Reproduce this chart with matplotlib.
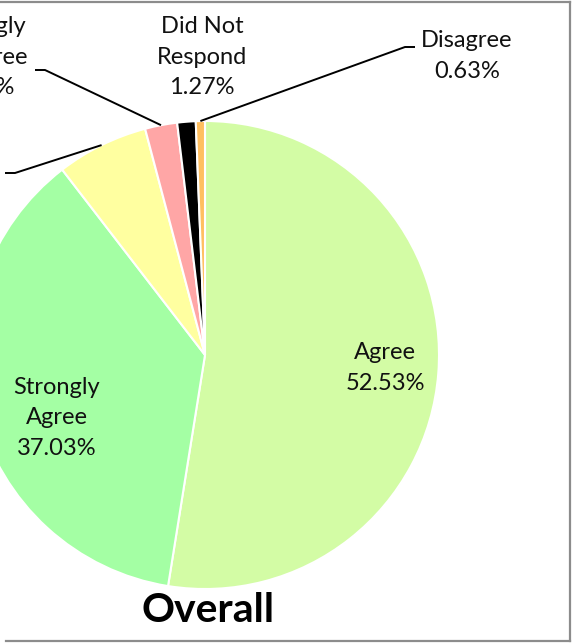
import numpy as np
import matplotlib
matplotlib.use("Agg")
import matplotlib.pyplot as plt
from matplotlib.lines import Line2D

# ---- data ----
categories = ["Agree", "Strongly Agree", "Neutral", "Strongly Disagree", "Did Not Respond", "Disagree"]
values = [52.53, 37.03, 6.33, 2.22, 1.27, 0.63]
colors = ["#D3FCA5", "#A4FFA4", "#FFFFA0", "#FFA6A6", "#000000", "#FFBF60"]
title = "Overall"

W, H = 573, 644
fig = plt.figure(figsize=(W / 100, H / 100), dpi=100)
FONT = "Lato"

# layout: pie centre / radius in pixels
CX, CY, R = 205, 355, 234
LEFT = 5
ax = fig.add_axes([LEFT / W, 0, 1 - LEFT / W, 1])

def px(x, y):
    return ((x - CX) / R, (CY - y) / R)

wedges, _ = ax.pie(values, colors=colors, startangle=90, counterclock=False,
                   wedgeprops=dict(edgecolor="white", linewidth=1.5))
ax.set_xlim((LEFT - CX) / R, (W - CX) / R)
ax.set_ylim((CY - H) / R, CY / R)
ax.set_aspect("auto")
ax.axis("off")

def edge_point(w, r=1.0):
    th = np.deg2rad((w.theta1 + w.theta2) / 2)
    return r * np.cos(th), r * np.sin(th)

def lbl(i):
    return f"{categories[i]}\n{values[i]:.2f}%"

fs = 17
ls = 1.55
tkw = dict(ha="center", va="center", fontsize=fs, family=FONT, linespacing=ls, color="#111111")

# inside labels
ax.text(*px(385, 368), lbl(0), **tkw)
ax.text(*px(57, 418), "Strongly\nAgree\n" + f"{values[1]:.2f}%", **tkw)

# outside labels with leaders
ax.text(*px(202, 57), "Did Not\nRespond\n" + f"{values[4]:.2f}%", **tkw)
ax.text(*px(467, 56), lbl(5), **tkw)
ax.text(*px(-17, 57), "Strongly\nDisagree\n" + f"{values[3]:.2f}%", clip_on=False, **tkw)

def leader(w, elbow, end):
    p0 = edge_point(w)
    p1 = px(*elbow)
    p2 = px(*end)
    ax.plot([p0[0], p1[0], p2[0]], [p0[1], p1[1], p2[1]], color="black", lw=1.4,
            solid_capstyle="butt", clip_on=False)

leader(wedges[5], (405, 47), (415, 47))
leader(wedges[3], (45, 70), (35, 70))
leader(wedges[2], (15, 173), (5, 173))

fig.text(208 / W, 1 - 611 / H, title, ha="center", va="center", fontsize=29.5,
         fontweight="bold", family=FONT, color="black")

# chart border (left side cropped)
bc = "#8C8C8C"
fig.add_artist(Line2D([0, 570 / W], [1 - 2 / H, 1 - 2 / H], color=bc, lw=1.6, transform=fig.transFigure))
fig.add_artist(Line2D([570 / W, 570 / W], [1 - 2 / H, 1 - 641 / H], color=bc, lw=1.6, transform=fig.transFigure))
fig.add_artist(Line2D([6 / W, 570 / W], [1 - 641 / H, 1 - 641 / H], color=bc, lw=1.6, transform=fig.transFigure))

fig.savefig("out.png", dpi=100)
